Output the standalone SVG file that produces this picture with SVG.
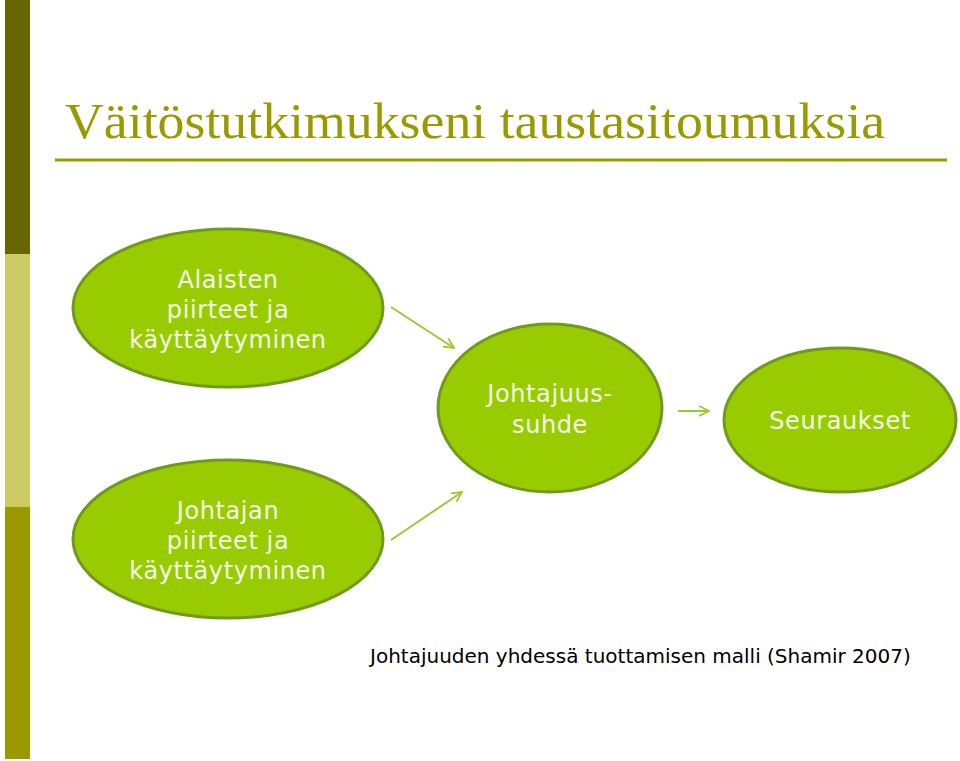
<svg xmlns="http://www.w3.org/2000/svg" width="960" height="761" viewBox="0 0 960 761">
<defs>
<style>
.node ellipse{fill:#99cc00;stroke:#6f9a1c;stroke-width:3}
.node text{font-family:"DejaVu Sans",Verdana,sans-serif;font-size:24px;letter-spacing:0.6px;fill:#f4faea;text-anchor:middle}
.conn line{stroke:#99cc33;stroke-width:2;fill:none}
</style>
<marker id="arr" viewBox="0 0 12 12" refX="11" refY="6" markerWidth="12" markerHeight="12" markerUnits="userSpaceOnUse" orient="auto">
<path d="M1,1 L11,6 L1,11" fill="none" stroke="#99cc33" stroke-width="1.8"/>
</marker>
</defs>
<rect width="960" height="761" fill="#ffffff"/>
<g id="sidebar">
<rect x="5" y="0" width="25" height="254" fill="#666600"/>
<rect x="5" y="254" width="25" height="253" fill="#cccc66"/>
<rect x="5" y="507" width="25" height="252" fill="#999900"/>
</g>
<g id="title">
<text x="65" y="138" font-family="'Liberation Serif',serif" font-size="50" fill="#999900" textLength="820" lengthAdjust="spacingAndGlyphs">Väitöstutkimukseni taustasitoumuksia</text>
<line x1="55" y1="160" x2="947" y2="160" stroke="#999900" stroke-width="3"/>
</g>
<g id="conns" class="conn">
<line x1="391" y1="307" x2="454" y2="348" marker-end="url(#arr)"/>
<line x1="678" y1="411" x2="709" y2="411" marker-end="url(#arr)"/>
<line x1="391" y1="540" x2="462" y2="492" marker-end="url(#arr)"/>
</g>
<g id="n-alaisten" class="node">
<ellipse cx="228" cy="308" rx="155" ry="79"/>
<text x="228" y="288">Alaisten</text>
<text x="228" y="318">piirteet ja</text>
<text x="228" y="348">käyttäytyminen</text>
</g>
<g id="n-johtajuussuhde" class="node">
<ellipse cx="550" cy="408" rx="112" ry="84"/>
<text x="550" y="402">Johtajuus-</text>
<text x="550" y="433">suhde</text>
</g>
<g id="n-seuraukset" class="node">
<ellipse cx="840" cy="420" rx="116" ry="72"/>
<text x="840" y="429">Seuraukset</text>
</g>
<g id="n-johtajan" class="node">
<ellipse cx="228" cy="539" rx="155" ry="79"/>
<text x="228" y="519">Johtajan</text>
<text x="228" y="549">piirteet ja</text>
<text x="228" y="579">käyttäytyminen</text>
</g>
<text id="caption" x="370" y="663" font-family="'DejaVu Sans',Verdana,sans-serif" font-size="20" fill="#000000">Johtajuuden yhdessä tuottamisen malli (Shamir 2007)</text>
</svg>
